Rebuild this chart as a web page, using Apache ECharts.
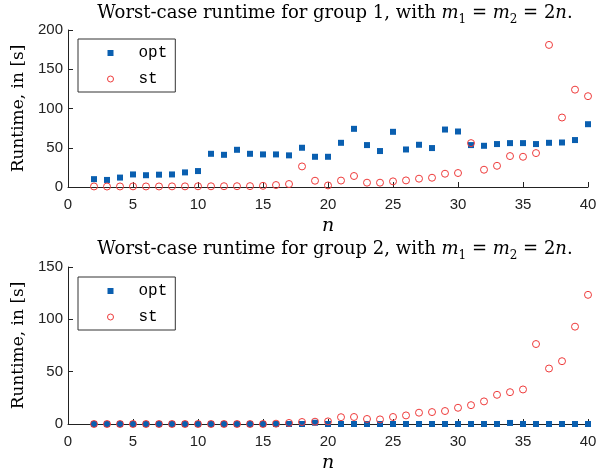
<!DOCTYPE html>
<html><head><meta charset="utf-8">
<script src="https://cdn.jsdelivr.net/npm/echarts@6/dist/echarts.min.js"></script>
<style>html,body{margin:0;padding:0;background:#fff}#c{width:605px;height:474px}</style>
</head><body><div id="c"></div>
<script>
const nValues = [2,3,4,5,6,7,8,9,10,11,12,13,14,15,16,17,18,19,20,21,22,23,24,25,26,27,28,29,30,31,32,33,34,35,36,37,38,39,40];
const g1Opt = [10,9,12,16,15,15.7,16,18.6,20.3,42.3,41,47.4,42.3,41.5,41.5,40.3,50,38.5,38.5,56.3,74.1,53.4,45.8,70.3,47.8,53.8,49.6,73.2,70.7,53.4,52.5,54.7,55.9,55.9,54.7,56.3,56.7,59.8,80];
const g1St = [0.7,0.6,0.7,0.8,0.7,0.7,0.8,0.8,0.9,0.9,1,1,1.1,1.5,2.5,3.8,26.2,8,2,8.2,14,5.5,5.5,7.2,8.4,10.6,11.8,16.9,17.8,55.9,22,27,39.4,38.5,43.2,181,88.5,124,115.7];
const g2Opt = [0,0,0,0,0,0,0,0,0,0,0,0,0,0,0,0,0,1.2,0,0,0,0,0,0,0,0,0,0,0,0,0,0,1,0,0,0,0,0,0];
const g2St = [0,0,0,0,0,0,0,0,0,0,0,0,0,0,0.3,1,1.9,2.2,2.5,6.5,6.7,4.8,4.4,6.7,8.2,10.8,11.4,12.4,15.5,18,21.6,27.9,30.4,33,76.4,53,60,93,123.4];
const xTicks = [0,5,10,15,20,25,30,35,40];
const y1Ticks = [0,50,100,150,200];
const y2Ticks = [0,50,100,150];
const titles = ['Worst-case runtime for group 1, with ', 'Worst-case runtime for group 2, with '];
const seriesNames = ['opt','st'];

const BLUE = '#0a5fb0', RED = '#ee3a3a';
const serif = 'DejaVu Serif';
const chart = echarts.init(document.getElementById('c'));
const pair = (xs, ys) => xs.map((x,i)=>[x, ys[i]]);
const titleRich = {
  i: {fontFamily: serif, fontStyle:'italic', fontSize:18, lineHeight:26, color:'#000'},
  s: {fontFamily: serif, fontSize:12, lineHeight:13, verticalAlign:'bottom', color:'#000'}
};
function mkTitle(t, top){
  return {text: t + '{i|m}{s|1} = {i|m}{s|2} = 2{i|n}.', left: 335, textAlign:'center', top: top, padding:0,
    textStyle:{fontFamily:serif, fontWeight:'normal', fontSize:18, lineHeight:26, color:'#000', rich:titleRich}};
}
function mkX(idx){
  return {type:'value', gridIndex:idx, min:0, max:40, interval:5,
    name:'n', nameLocation:'middle', nameGap:30,
    nameTextStyle:{fontFamily:serif, fontStyle:'italic', fontSize:19, color:'#000'},
    axisLine:{lineStyle:{color:'#222', width:1}}, axisTick:{inside:true, length:5, lineStyle:{color:'#222'}},
    axisLabel:{fontFamily:'Liberation Sans', fontSize:15, color:'#222', margin:10},
    splitLine:{show:false}};
}
function mkY(idx, max){
  return {type:'value', gridIndex:idx, min:0, max:max, interval:50,
    name:'Runtime, in [s]', nameLocation:'middle', nameGap:38,
    nameTextStyle:{fontFamily:serif, fontSize:17, color:'#000'},
    axisLine:{show:true, lineStyle:{color:'#222', width:1}}, axisTick:{show:true, inside:true, length:5, lineStyle:{color:'#222'}},
    axisLabel:{fontFamily:'Liberation Sans', fontSize:15, color:'#222', margin:5},
    splitLine:{show:false}};
}
function mkLegend(idx, top){
  return {orient:'vertical', left:78, top:top,
    data:[{name:seriesNames[0]+idx, icon:'rect', itemStyle:{color:BLUE}},
          {name:seriesNames[1]+idx, icon:'circle', itemStyle:{color:'rgba(255,255,255,0)', borderColor:RED, borderWidth:1}}],
    formatter: n => n.slice(0,-1),
    itemWidth:6, itemHeight:6, itemGap:6, padding:[4,8,3,29],
    borderColor:'#333', borderWidth:1, backgroundColor:'#fff',
    textStyle:{fontFamily:'Liberation Mono', fontSize:16, color:'#000', lineHeight:20, padding:[0,0,0,20]}};
}
function sc(name, x, y, data, isOpt){
  return {type:'scatter', name:name, xAxisIndex:x, yAxisIndex:y, data:data, clip:false,
    symbol: isOpt ? 'rect' : 'circle', symbolSize: isOpt ? 6 : 7,
    itemStyle: isOpt ? {color:BLUE, opacity:1} : {color:'rgba(255,255,255,0)', borderColor:RED, borderWidth:1, opacity:1},
    z: isOpt ? 3 : 4};
}
chart.setOption({
  animation:false,
  title:[mkTitle(titles[0], 0), mkTitle(titles[1], 236)],
  grid:[{left:68, right:17, top:30, height:157}, {left:68, right:17, top:267, height:158}],
  xAxis:[mkX(0), mkX(1)],
  yAxis:[mkY(0,200), mkY(1,150)],
  legend:[mkLegend(0, 39), mkLegend(1, 277)],
  series:[
    sc('opt0',0,0,pair(nValues,g1Opt),true),
    sc('st0',0,0,pair(nValues,g1St),false),
    sc('opt1',1,1,pair(nValues,g2Opt),true),
    sc('st1',1,1,pair(nValues,g2St),false)
  ]
});
</script></body></html>
